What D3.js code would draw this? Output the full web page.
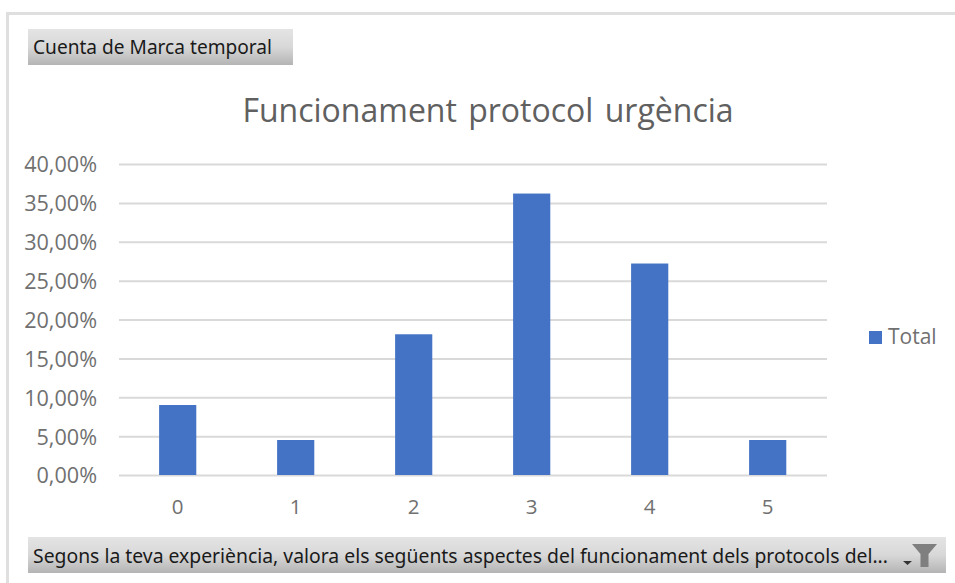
<!DOCTYPE html>
<html><head><meta charset="utf-8">
<script src="https://cdn.jsdelivr.net/npm/d3@7/dist/d3.min.js"></script>
<style>html,body{margin:0;padding:0;background:#fff}svg{display:block}</style>
</head><body><svg id="c" width="955" height="583"></svg>
<script>
const categories = ["0","1","2","3","4","5"];
const seriesValues = [9.0,4.5,18.1,36.2,27.2,4.5];
const yTicks = [0,5,10,15,20,25,30,35,40];
const seriesName = "Total";
const chartTitle = "Funcionament protocol urgència";
const valueButton = "Cuenta de Marca temporal";
const axisButton = "Segons la teva experiència, valora els següents aspectes del funcionament dels protocols del...";

const svg = d3.select("#c");
const font = "'Open Sans','Noto Sans',sans-serif";
const btnFont = "'Noto Sans','Open Sans',sans-serif";
const defs = svg.append("defs");
const g = defs.append("linearGradient").attr("id","btn").attr("x1",0).attr("y1",0).attr("x2",0).attr("y2",1);
g.append("stop").attr("offset",0).attr("stop-color","#e4e4e4");
g.append("stop").attr("offset",.5).attr("stop-color","#d8d8d8");
g.append("stop").attr("offset",1).attr("stop-color","#b4b4b4");

// outer frame
svg.append("path").attr("d","M955 13.5H7.5V583").attr("fill","none").attr("stroke","#dfdfdf").attr("stroke-width",3);

const x = d3.scaleBand().domain(categories).range([118.7,826.7]).paddingInner(0.685).paddingOuter(0.3425);
const y = d3.scaleLinear().domain([0,40]).range([475,164]);

const yAxis = svg.append("g").attr("transform","translate(119,0)")
  .call(d3.axisLeft(y).tickValues(yTicks).tickSize(-708).tickPadding(22)
    .tickFormat(d=>d3.format(".2f")(d).replace(".",",")+"%"));
yAxis.select(".domain").remove();
yAxis.selectAll("line").attr("stroke","#d9d9d9").attr("stroke-width",2);
yAxis.selectAll("text").attr("fill","#707070").attr("font-family",font).attr("font-size",21.6).attr("transform","translate(0,1)");

svg.append("g").selectAll("rect").data(categories).join("rect")
  .attr("x",d=>x(d)).attr("width",x.bandwidth())
  .attr("y",(d,i)=>y(seriesValues[i])).attr("height",(d,i)=>y(0)-y(seriesValues[i]))
  .attr("fill","#4472c4");

const xAxis = svg.append("g").attr("transform","translate(0,475)")
  .call(d3.axisBottom(x).tickSize(0).tickPadding(24));
xAxis.select(".domain").remove();
xAxis.selectAll("text").attr("fill","#707070").attr("font-family",font).attr("font-size",20.5);

svg.append("text").attr("x",488).attr("y",122).attr("text-anchor","middle")
  .attr("font-family",font).attr("font-size",32).attr("fill","#606060").attr("word-spacing",3).text(chartTitle);

// legend
svg.append("rect").attr("x",869).attr("y",331).attr("width",13).attr("height",13).attr("fill","#4472c4");
svg.append("text").attr("x",888).attr("y",344).attr("font-family",font).attr("font-size",21).attr("fill","#707070").text(seriesName);

// field buttons
svg.append("rect").attr("x",28).attr("y",29).attr("width",265).attr("height",36).attr("fill","url(#btn)");
svg.append("text").attr("x",33).attr("y",54).attr("font-family",btnFont).attr("font-size",20).attr("fill","#1a1a1a")
  .attr("textLength",239).attr("lengthAdjust","spacingAndGlyphs").text(valueButton);
svg.append("rect").attr("x",28).attr("y",537).attr("width",918).attr("height",36).attr("fill","url(#btn)");
svg.append("text").attr("x",33).attr("y",563).attr("font-family",btnFont).attr("font-size",20).attr("fill","#1a1a1a")
  .attr("textLength",855).attr("lengthAdjust","spacingAndGlyphs").text(axisButton);
// dropdown arrow and funnel
svg.append("path").attr("d","M903 561h9l-4.5 4z").attr("fill","#333");
svg.append("path").attr("d","M912 544h25l-8.5 10v13h-8v-13z").attr("fill","#7f7f7f");
</script></body></html>
